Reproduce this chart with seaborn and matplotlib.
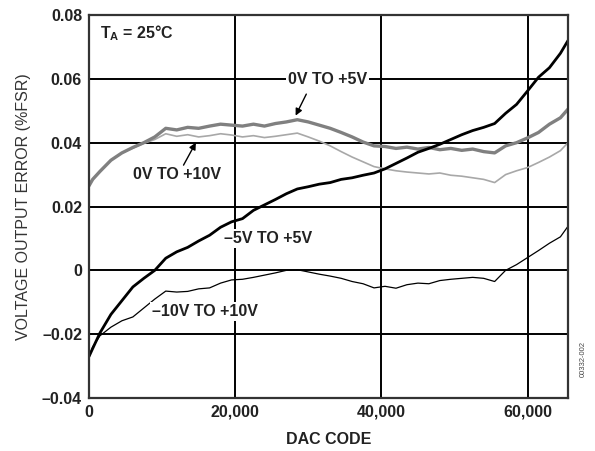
import matplotlib
matplotlib.use("Agg")
import matplotlib.pyplot as plt
import seaborn as sns
import pandas as pd

codes = [0, 500, 1500, 3000, 4500, 6000, 7500, 9000, 10500, 12000, 13500,
         15000, 16500, 18000, 19500, 21000, 22500, 24000, 25500, 27000,
         28500, 30000, 31500, 33000, 34500, 36000, 37500, 39000, 40500,
         42000, 43500, 45000, 46500, 48000, 49500, 51000, 52500, 54000,
         55500, 57000, 58500, 60000, 61500, 63000, 64500, 65535]

err_m5_p5 = [-0.027, -0.0245, -0.0196, -0.0138, -0.0095, -0.0052, -0.0025,
             0.0000, 0.0038, 0.0058, 0.0072, 0.0092, 0.0110, 0.0135, 0.0152,
             0.0162, 0.0188, 0.0205, 0.0222, 0.0240, 0.0255, 0.0262, 0.0270,
             0.0275, 0.0285, 0.0290, 0.0298, 0.0305, 0.0318, 0.0335, 0.0352,
             0.0370, 0.0382, 0.0395, 0.0410, 0.0425, 0.0438, 0.0448, 0.0460,
             0.0492, 0.0520, 0.0562, 0.0605, 0.0635, 0.0680, 0.0720]

err_0_p5 = [0.0265, 0.0285, 0.0310, 0.0345, 0.0368, 0.0385, 0.0400, 0.0418,
            0.0445, 0.0440, 0.0448, 0.0445, 0.0452, 0.0458, 0.0455, 0.0452,
            0.0458, 0.0452, 0.0460, 0.0465, 0.0472, 0.0465, 0.0455, 0.0445,
            0.0432, 0.0418, 0.0402, 0.0390, 0.0388, 0.0382, 0.0386, 0.0380,
            0.0385, 0.0378, 0.0382, 0.0376, 0.0380, 0.0372, 0.0368, 0.0390,
            0.0400, 0.0415, 0.0432, 0.0458, 0.0478, 0.0505]

err_0_p10 = [0.0265, 0.0285, 0.0312, 0.0345, 0.0368, 0.0383, 0.0398, 0.0410,
             0.0428, 0.0420, 0.0425, 0.0418, 0.0422, 0.0428, 0.0424, 0.0418,
             0.0422, 0.0416, 0.0420, 0.0425, 0.0430, 0.0418, 0.0405, 0.0390,
             0.0372, 0.0355, 0.0340, 0.0325, 0.0318, 0.0312, 0.0308, 0.0305,
             0.0302, 0.0305, 0.0298, 0.0295, 0.0290, 0.0285, 0.0275, 0.0300,
             0.0312, 0.0322, 0.0338, 0.0355, 0.0375, 0.0400]

err_m10_p10 = [-0.027, -0.0240, -0.0205, -0.0178, -0.0158, -0.0146, -0.0118,
               -0.0090, -0.0065, -0.0068, -0.0066, -0.0058, -0.0055, -0.0040,
               -0.0030, -0.0028, -0.0022, -0.0015, -0.0008, 0.0000, 0.0002,
               -0.0005, -0.0012, -0.0018, -0.0025, -0.0035, -0.0042, -0.0055,
               -0.0050, -0.0056, -0.0045, -0.0040, -0.0042, -0.0032, -0.0028,
               -0.0025, -0.0022, -0.0025, -0.0035, 0.0000, 0.0018, 0.0040,
               0.0062, 0.0085, 0.0105, 0.0138]

x_ticks = [0, 20000, 40000, 60000]
x_ticklabels = ["0", "20,000", "40,000", "60,000"]
y_ticks = [-0.04, -0.02, 0, 0.02, 0.04, 0.06, 0.08]
y_ticklabels = ["\u20130.04", "\u20130.02", "0", "0.02", "0.04", "0.06", "0.08"]

sns.set_style("white")
plt.rcParams['font.family'] = ['Liberation Sans', 'DejaVu Sans']
plt.rcParams['font.weight'] = 'bold'

df = pd.DataFrame({"code": codes, "m5p5": err_m5_p5, "p5": err_0_p5,
                   "p10": err_0_p10, "m10p10": err_m10_p10})

fig = plt.figure(figsize=(5.95, 4.51), dpi=100)
ax = fig.add_axes([0.1496, 0.1175, 0.8050, 0.8492])

ax.set_xlim(0, 65535)
ax.set_ylim(-0.04, 0.08)
ax.set_xticks(x_ticks)
ax.set_xticklabels(x_ticklabels)
ax.set_yticks(y_ticks)
ax.set_yticklabels(y_ticklabels)
ax.grid(True, color="black", linewidth=1.4, zorder=0)
ax.set_axisbelow(True)
ax.tick_params(length=0, labelsize=11.5, pad=5, colors="#222222")
for s in ax.spines.values():
    s.set_color("#333333")
    s.set_linewidth(1.6)

sns.lineplot(data=df, x="code", y="p10", ax=ax, color="#a8a8a8", linewidth=1.2)
sns.lineplot(data=df, x="code", y="p5", ax=ax, color="#808080", linewidth=2.4)
sns.lineplot(data=df, x="code", y="m10p10", ax=ax, color="black", linewidth=0.9)
sns.lineplot(data=df, x="code", y="m5p5", ax=ax, color="black", linewidth=2.0)

ax.set_xlabel("DAC CODE", fontsize=11.5, fontweight="bold", labelpad=9, color="#222222")
ax.set_ylabel("VOLTAGE OUTPUT ERROR (%FSR)", fontsize=11.5, fontweight="normal",
              labelpad=8, color="#333333")

box = dict(facecolor="white", edgecolor="none", pad=1.5)
tk = dict(fontsize=11.5, fontweight="bold", ha="center", va="center",
          color="#222222", bbox=box, zorder=5)

ax.text(1500, 0.0744, "T$_\\mathregular{A}$ = 25°C", fontsize=11.5, fontweight="bold",
        ha="left", va="center", color="#222222")

ax.text(32600, 0.0598, "0V TO +5V", **tk)
ax.annotate("", xy=(28100, 0.0477), xytext=(29900, 0.0560),
            arrowprops=dict(arrowstyle="-|>", color="black", lw=1.0,
                            mutation_scale=10), zorder=6)

ax.text(12065, 0.0299, "0V TO +10V", **tk)
ax.annotate("", xy=(14800, 0.0408), xytext=(12750, 0.0322),
            arrowprops=dict(arrowstyle="-|>", color="black", lw=1.0,
                            mutation_scale=10), zorder=6)

ax.text(24540, 0.0101, "\u20135V TO +5V", **tk)
ax.text(15900, -0.0130, "\u201310V TO +10V", **tk)

fig.text(0.981, 0.205, "00332-002", rotation=90, fontsize=5.5,
         fontweight="normal", ha="center", va="center", color="#444444")

fig.savefig("out.png", dpi=100)
